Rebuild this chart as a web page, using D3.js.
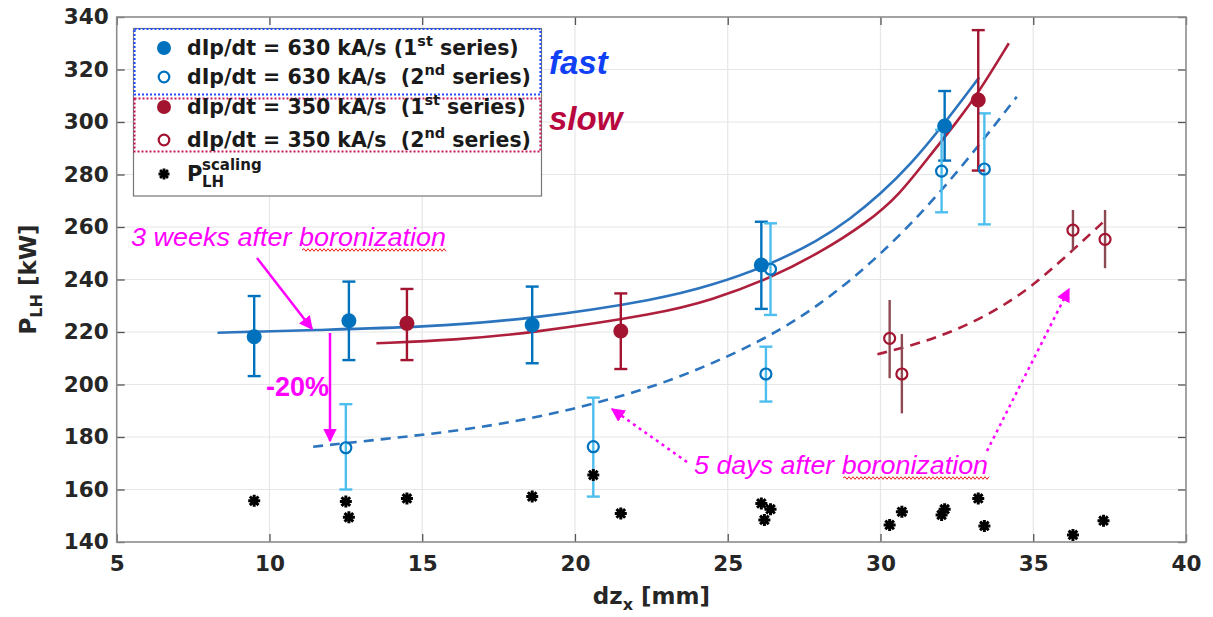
<!DOCTYPE html>
<html>
<head>
<meta charset="utf-8">
<script src="https://cdn.jsdelivr.net/npm/d3@7"></script>
<style>
  body { margin: 0; background: #fff; }
  text { font-family: "DejaVu Sans", Verdana, sans-serif; }
  .annot { font-family: "Liberation Sans", Arial, sans-serif; }
</style>
</head>
<body>
<svg id="chart" width="1213" height="617"></svg>
<script>
// ticks
const xTicks = [5, 10, 15, 20, 25, 30, 35, 40];
const yTicks = [140, 160, 180, 200, 220, 240, 260, 280, 300, 320, 340];

// measured points: [dz_x, P_LH, lower, upper]
const fast1 = [[9.5, 218.2, 203.2, 233.7], [12.6, 224.3, 209.3, 239.2], [18.6, 222.7, 208.1, 237.3],
               [26.1, 245.5, 228.8, 262], [32.1, 298.5, 285.3, 311.8]];
const fast2 = [[12.5, 175.9, 160, 192.5], [20.6, 176.3, 157.3, 195], [26.25, 204, 193.5, 214.4],
               [26.4, 243.9, 226.5, 261.4], [32.0, 281.3, 265.6, 297], [33.4, 282.1, 261, 303.3]];
const slow1 = [[14.5, 223.3, 209.3, 236.4], [21.5, 220.4, 205.9, 234.7], [33.2, 308.4, 281.5, 335]];
const slow2 = [[30.3, 217.6, 202.4, 232.2], [30.7, 204, 189, 219.2], [36.3, 258.8, 251, 266.5],
               [37.35, 255.3, 244.3, 266.5]];
// scaling law points [dz_x, P]
const scaling = [[9.5, 155.7], [12.5, 155.4], [12.6, 149.4], [14.5, 156.6], [18.6, 157.3], [20.6, 165.5],
                 [21.5, 150.9], [26.1, 154.7], [26.2, 148.4], [26.4, 152.5], [30.3, 146.5], [30.7, 151.5],
                 [32.0, 150.3], [32.1, 152.5], [33.2, 156.6], [33.4, 146.1], [36.3, 142.7], [37.3, 148.1]];

// fit curves
const fitFast1 = [[8.3, 219.7], [11.5, 220.8], [15, 221.8], [18.5, 224.8], [22.8, 232.5], [24.5, 237.9],
                  [26.25, 244.9], [28, 255], [29, 263], [30, 272.5], [31, 284], [32, 298], [33.23, 317]];
const fitSlow1 = [[13.5, 215.7], [16.1, 217], [18.5, 219.5], [22.8, 227], [24.5, 232.3], [26.25, 239.8],
                  [28, 250], [29.6, 262], [30.6, 272], [31.6, 287], [32.5, 300], [33.2, 311], [34.2, 330]];
const fitFast2 = [[11.43, 176.3], [13.8, 179.3], [16.1, 182.2], [18.5, 186.8], [20.6, 192.5], [22.8, 200],
                  [24.5, 208], [26.25, 217.5], [28, 230], [30, 249], [32.17, 275.4], [34.46, 309.6]];
const fitSlow2 = [[29.9, 211.5], [31, 214.8], [32, 218.6], [33, 223.5], [34, 229.8], [35, 237.8],
                  [36, 248], [37.3, 262]];

const blue = "#0072BD", lightBlue = "#4DBEEE", red = "#A2142F", brown = "#8E4A52", magenta = "#FF00FF";

const svg = d3.select("#chart");
const x = d3.scaleLinear().domain([5, 40]).range([116.7, 1186]);
const y = d3.scaleLinear().domain([140, 340]).range([542, 17]);

// arrowheads
const defs = svg.append("defs");
defs.append("marker").attr("id", "head").attr("viewBox", "0 0 10 10")
  .attr("refX", 9).attr("refY", 5).attr("markerWidth", 5.5).attr("markerHeight", 5.5)
  .attr("markerUnits", "strokeWidth").attr("orient", "auto")
  .append("path").attr("d", "M0,0 L10,5 L0,10 z").attr("fill", magenta);

// grid
const grid = svg.append("g").attr("stroke", "#e6e6e6").attr("stroke-width", 1.2);
grid.selectAll(".gx").data(xTicks.slice(1, -1)).join("line")
  .attr("x1", d => x(d)).attr("x2", d => x(d)).attr("y1", y(140)).attr("y2", y(340));
grid.selectAll(".gy").data(yTicks.slice(1, -1)).join("line")
  .attr("x1", x(5)).attr("x2", x(40)).attr("y1", d => y(d)).attr("y2", d => y(d));

// fit curves
const line = d3.line().x(d => x(d[0])).y(d => y(d[1])).curve(d3.curveBasis);
const curves = [
  [fitFast1, "#2C74BE", null], [fitSlow1, "#AE1F3C", null],
  [fitFast2, "#2C74BE", "10,7"], [fitSlow2, "#AE1F3C", "10,7"]
];
curves.forEach(([d, c, dash]) => {
  svg.append("path").datum(d).attr("d", line).attr("fill", "none")
    .attr("stroke", c).attr("stroke-width", 2.6).attr("stroke-dasharray", dash);
});

// error bars
function errorBars(data, color, cap) {
  const g = svg.append("g").attr("stroke", color).attr("stroke-width", 2.4);
  g.selectAll(".v").data(data).join("line")
    .attr("x1", d => x(d[0])).attr("x2", d => x(d[0])).attr("y1", d => y(d[2])).attr("y2", d => y(d[3]));
  if (cap) {
    ["2", "3"].forEach(k => {
      g.selectAll(".c" + k).data(data).join("line")
        .attr("x1", d => x(d[0]) - cap).attr("x2", d => x(d[0]) + cap)
        .attr("y1", d => y(d[+k])).attr("y2", d => y(d[+k]));
    });
  }
}
errorBars(fast1, blue, 6.5);
errorBars(fast2, lightBlue, 6.5);
errorBars(slow1, red, 6.5);
errorBars(slow2, brown, 0);

// markers
function dots(data, color, open) {
  svg.append("g").selectAll("circle").data(data).join("circle")
    .attr("cx", d => x(d[0])).attr("cy", d => y(d[1]))
    .attr("r", open ? 5.5 : 7.5)
    .attr("fill", open ? "none" : color)
    .attr("stroke", color).attr("stroke-width", open ? 2.2 : 0);
}
dots(fast1, blue, false);
dots(fast2, blue, true);
dots(slow1, red, false);
dots(slow2, red, true);

// asterisks
function starPath(s) {
  const k = s * 0.72;
  return `M${-s},0L${s},0M0,${-s}L0,${s}M${-k},${-k}L${k},${k}M${-k},${k}L${k},${-k}`;
}
svg.append("g").selectAll("path").data(scaling).join("path")
  .attr("transform", d => `translate(${x(d[0])},${y(d[1])})`)
  .attr("d", starPath(6)).attr("stroke", "#000").attr("stroke-width", 3).attr("fill", "none");

// axes
const tickCol = "#555";
const fmtAxis = g => {
  g.select(".domain").remove();
  g.selectAll(".tick line").attr("stroke", tickCol).attr("stroke-width", 1.3);
  g.selectAll("text").attr("fill", "#262626").style("font-size", "21.5px").style("font-weight", "bold");
};
svg.append("g").attr("transform", `translate(0,${y(140)})`)
  .call(d3.axisBottom(x).tickValues(xTicks).tickSizeInner(-8).tickSizeOuter(0).tickPadding(14))
  .call(fmtAxis);
svg.append("g").attr("transform", `translate(${x(5)},0)`)
  .call(d3.axisLeft(y).tickValues(yTicks).tickSizeInner(-8).tickSizeOuter(0).tickPadding(8))
  .call(fmtAxis);
svg.append("g").attr("transform", `translate(0,${y(340)})`)
  .call(d3.axisTop(x).tickValues(xTicks).tickSizeInner(-8).tickSizeOuter(0).tickFormat(""))
  .call(fmtAxis);
svg.append("g").attr("transform", `translate(${x(40)},0)`)
  .call(d3.axisRight(y).tickValues(yTicks).tickSizeInner(-8).tickSizeOuter(0).tickFormat(""))
  .call(fmtAxis);
svg.append("rect").attr("x", x(5)).attr("y", y(340)).attr("width", x(40) - x(5)).attr("height", y(140) - y(340))
  .attr("fill", "none").attr("stroke", "#8c8c8c").attr("stroke-width", 1.6);

// axis labels
const xl = svg.append("text").attr("x", (x(5) + x(40)) / 2).attr("y", 604).attr("text-anchor", "middle")
  .attr("fill", "#262626").style("font-size", "23px").style("font-weight", "bold");
xl.append("tspan").text("dz");
xl.append("tspan").text("x").attr("dy", 6).style("font-size", "16px");
xl.append("tspan").text(" [mm]").attr("dy", -6);

const yl = svg.append("text").attr("transform", `translate(36,${(y(140) + y(340)) / 2}) rotate(-90)`)
  .attr("text-anchor", "middle").attr("fill", "#262626").style("font-size", "23px").style("font-weight", "bold");
yl.append("tspan").text("P");
yl.append("tspan").text("LH").attr("dy", 6).style("font-size", "16px");
yl.append("tspan").text(" [kW]").attr("dy", -6);

// legend
const lg = svg.append("g");
lg.append("rect").attr("x", 133.5).attr("y", 28.5).attr("width", 408).attr("height", 167.5)
  .attr("fill", "#fff").attr("stroke", "#777").attr("stroke-width", 1.2);
lg.append("rect").attr("x", 134.5).attr("y", 29).attr("width", 406).attr("height", 65.5)
  .attr("fill", "none").attr("stroke", "#2050FF").attr("stroke-width", 2.2).attr("stroke-dasharray", "2,2");
lg.append("rect").attr("x", 134.5).attr("y", 98.5).attr("width", 406).attr("height", 53)
  .attr("fill", "none").attr("stroke", "#C8185A").attr("stroke-width", 2.2).attr("stroke-dasharray", "2,2");

const legendRows = [
  { y: 48, color: blue, kind: "fill", pre: "dIp/dt = 630 kA/s (1", sup: "st", post: " series)" },
  { y: 77, color: blue, kind: "open", pre: "dIp/dt = 630 kA/s  (2", sup: "nd", post: " series)" },
  { y: 107, color: red, kind: "fill", pre: "dIp/dt = 350 kA/s  (1", sup: "st", post: " series)" },
  { y: 140, color: red, kind: "open", pre: "dIp/dt = 350 kA/s  (2", sup: "nd", post: " series)" }
];
legendRows.forEach(r => {
  lg.append("circle").attr("cx", 164).attr("cy", r.y).attr("r", r.kind === "fill" ? 7 : 5.3)
    .attr("fill", r.kind === "fill" ? r.color : "none").attr("stroke", r.color)
    .attr("stroke-width", r.kind === "fill" ? 0 : 2.2);
  const t = lg.append("text").attr("x", 187).attr("y", r.y + 7).attr("fill", "#1a1a1a")
    .style("font-size", "20.5px").style("font-weight", "bold").style("white-space", "pre");
  t.append("tspan").text(r.pre);
  t.append("tspan").text(r.sup).attr("dy", -9).style("font-size", "14.5px");
  t.append("tspan").text(r.post).attr("dy", 9);
});
lg.append("path").attr("transform", "translate(164,174)").attr("d", starPath(5.5))
  .attr("stroke", "#000").attr("stroke-width", 2.8);
const ps = lg.append("text").attr("y", 181).attr("fill", "#1a1a1a").style("font-weight", "bold");
ps.append("tspan").attr("x", 187).text("P").style("font-size", "21px");
ps.append("tspan").attr("x", 202).attr("dy", -11).text("scaling").style("font-size", "15px");
ps.append("tspan").attr("x", 202).attr("dy", 17).text("LH").style("font-size", "15px");

svg.append("text").attr("class", "annot").attr("x", 549).attr("y", 74).text("fast")
  .attr("fill", "#1040F5").style("font-size", "33px").style("font-weight", "bold").style("font-style", "italic");
svg.append("text").attr("class", "annot").attr("x", 549).attr("y", 130).text("slow")
  .attr("fill", "#B8063F").style("font-size", "33px").style("font-weight", "bold").style("font-style", "italic");

// annotations
function wavy(x0, x1, yy) {
  const p = d3.path();
  p.moveTo(x0, yy);
  let up = true;
  for (let xx = x0; xx < x1; xx += 2) {
    p.lineTo(xx + 2, yy + (up ? -1.3 : 1.3));
    up = !up;
  }
  svg.append("path").attr("d", p.toString()).attr("fill", "none").attr("stroke", "#E8201E").attr("stroke-width", 1);
}
svg.append("text").attr("class", "annot").attr("x", 131).attr("y", 246)
  .attr("textLength", 315).attr("lengthAdjust", "spacingAndGlyphs")
  .text("3 weeks after boronization").attr("fill", magenta).style("font-size", "25px").style("font-style", "italic");
wavy(302, 446, 250);
svg.append("text").attr("class", "annot").attr("x", 694).attr("y", 474)
  .attr("textLength", 294).attr("lengthAdjust", "spacingAndGlyphs")
  .text("5 days after boronization").attr("fill", magenta).style("font-size", "25px").style("font-style", "italic");
wavy(843, 988, 478);
svg.append("text").attr("class", "annot").attr("x", 266).attr("y", 396).text("-20%")
  .attr("fill", magenta).style("font-size", "27px").style("font-weight", "bold");

const arrow = (x1, y1, x2, y2, dash) => svg.append("line")
  .attr("x1", x1).attr("y1", y1).attr("x2", x2).attr("y2", y2)
  .attr("stroke", magenta).attr("stroke-width", 2.5).attr("stroke-dasharray", dash)
  .attr("marker-end", "url(#head)");
arrow(257, 258, 312, 329, null);
arrow(330, 333, 330, 441, null);
arrow(687, 462, 612, 409, "3,4");
arrow(987, 451, 1069, 289, "3,4");
</script>
</body>
</html>
